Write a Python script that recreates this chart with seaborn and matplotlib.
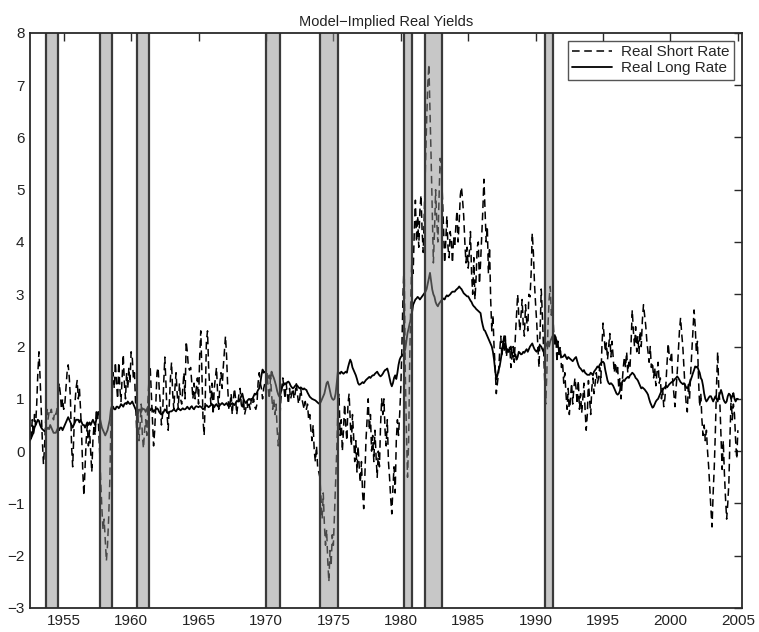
import numpy as np
import pandas as pd
import matplotlib
matplotlib.use("Agg")
import matplotlib.pyplot as plt
import seaborn as sns

# ---------------- data (monthly, starting July 1952) ----------------
start_year = 1952.5

short_rate = [
    0.4, 0.2, 0.6, 0.3, 0.7, 0.5,                                   # 1952 H2
    0.9, 1.5, 1.9, 1.4, 0.8, 0.2, -0.25, 0.1, 0.6, 0.8, 0.6, 0.75,   # 1953
    0.7, 0.8, 0.65, 0.6, 0.75, 0.7, 0.8, 1.0, 1.3, 1.1, 0.8, 1.0,    # 1954
    0.8, 0.9, 1.2, 1.5, 1.65, 1.4, 1.0, 0.1, -0.3, 0.3, 0.9, 1.2,    # 1955
    1.35, 1.0, 1.2, 0.8, 0.3, -0.4, -0.85, -0.3, 0.2, 0.5, 0.1, 0.4, # 1956
    0.0, -0.4, 0.2, 0.5, 0.3, 0.8, 0.7, 0.5, 0.0, -0.6, -1.1, -1.5,  # 1957
    -1.3, -1.7, -2.1, -1.8, -1.3, -0.6, 0.5, 1.2, 1.5, 1.2, 1.7, 1.3,# 1958
    1.0, 1.7, 1.2, 0.95, 1.4, 1.85, 1.3, 1.0, 1.5, 1.2, 1.6, 1.3,    # 1959
    1.9, 1.8, 1.4, 1.5, 0.9, 0.4, 0.8, 0.2, 0.5, 0.9, 0.3, 0.05,     # 1960
    0.4, 0.6, 0.3, 1.0, 1.4, 1.6, 1.1, 0.6, 0.1, 0.4, 0.9, 1.5,      # 1961
    1.6, 1.2, 0.9, 0.5, 0.7, 1.3, 1.8, 1.3, 0.7, 0.4, 0.9, 1.4,      # 1962
    1.7, 1.1, 0.8, 1.2, 1.5, 1.1, 0.8, 1.3, 1.0, 0.9, 1.2, 1.5,      # 1963
    1.0, 2.1, 1.9, 1.6, 1.55, 1.6, 1.3, 1.0, 1.3, 1.0, 1.2, 1.4,     # 1964
    0.9, 1.8, 2.3, 1.5, 0.6, 0.3, 1.0, 2.1, 2.3, 1.6, 1.2, 0.9,      # 1965
    1.3, 0.7, 1.2, 1.4, 1.6, 1.1, 0.8, 1.3, 1.5, 1.2, 1.6, 1.9,      # 1966
    2.2, 1.8, 1.2, 0.8, 0.9, 1.1, 0.7, 1.0, 1.2, 1.0, 0.7, 0.9,      # 1967
    1.1, 1.2, 0.9, 0.8, 1.0, 0.7, 0.8, 0.95, 0.8, 0.9, 0.8, 1.0,     # 1968
    0.9, 1.0, 0.85, 0.8, 0.9, 1.3, 1.5, 1.3, 1.2, 1.0, 1.2, 1.3,     # 1969
    1.3, 1.5, 1.2, 1.0, 1.4, 1.1, 0.8, 1.0, 0.7, 0.9, 0.4, 0.1,      # 1970
    0.4, 0.9, 1.2, 1.4, 1.2, 1.0, 1.3, 1.1, 0.9, 1.2, 1.0, 1.1,      # 1971
    1.2, 1.0, 1.1, 1.3, 1.1, 0.9, 1.0, 1.2, 1.0, 0.9, 0.8, 0.95,     # 1972
    0.8, 0.9, 0.6, 0.7, 0.4, 0.2, 0.5, 0.0, -0.2, 0.1, -0.3, -0.4,   # 1973
    -0.5, -0.9, -1.3, -0.8, -1.4, -1.8, -1.5, -2.1, -2.5, -1.9, -2.2, -1.6,  # 1974
    -1.8, -1.2, -0.6, 0.0, 0.8, 1.1, 0.3, 0.6, 0.0, 0.4, 0.9, 0.5,   # 1975
    0.2, 0.9, 1.1, 0.6, 0.1, 0.7, 0.3, -0.2, 0.2, -0.4, 0.1, -0.3,   # 1976
    -0.6, -0.2, -0.8, -1.1, -0.5, 0.2, 0.6, 1.0, 0.4, 0.7, 0.0, 0.3, # 1977
    -0.2, 0.4, -0.1, -0.5, 0.0, -0.3, 0.5, 1.0, 0.7, 1.0, 0.4, 0.1,  # 1978
    0.6, -0.2, -0.5, -0.9, -1.2, -0.7, -0.3, -0.8, 0.2, 0.6, 0.3, 0.7,  # 1979
    1.2, 2.0, 3.0, 3.6, 1.5, 0.4, -0.5, 0.2, 1.8, 3.0, 3.8, 3.4,     # 1980
    4.2, 4.8, 4.0, 4.5, 3.9, 4.6, 4.9, 4.2, 3.8, 4.6, 5.5, 6.3,      # 1981
    7.0, 7.4, 6.5, 5.6, 4.6, 3.6, 4.2, 5.0, 4.4, 4.0, 4.8, 5.6,      # 1982
    5.5, 4.9, 4.3, 3.6, 4.0, 4.5, 3.9, 3.7, 4.2, 4.0, 3.6, 4.1,      # 1983
    3.9, 4.3, 4.6, 4.0, 4.4, 4.9, 5.05, 4.8, 4.5, 4.0, 3.6, 3.9,     # 1984
    3.5, 3.8, 4.2, 3.4, 3.0, 3.7, 2.9, 3.3, 3.9, 4.0, 3.2, 3.6,      # 1985
    4.1, 4.6, 5.2, 4.6, 4.0, 4.3, 3.4, 3.9, 2.9, 2.3, 2.6, 2.0,      # 1986
    1.6, 1.1, 1.3, 1.5, 1.9, 2.2, 1.8, 2.1, 1.9, 2.2, 1.8, 2.0,      # 1987
    1.9, 2.0, 1.6, 1.8, 2.0, 1.7, 2.2, 2.6, 3.0, 2.6, 2.3, 2.6,      # 1988
    2.9, 2.4, 2.2, 2.8, 2.5, 2.3, 3.0, 2.95, 3.4, 4.17, 3.8, 3.2,    # 1989
    2.8, 2.45, 2.0, 1.6, 2.3, 3.1, 2.6, 2.0, 1.4, 0.9, 1.5, 2.4,     # 1990
    2.9, 3.15, 2.6, 2.8, 2.3, 2.0, 2.2, 1.7, 2.1, 1.8, 2.0, 1.6,     # 1991
    1.7, 1.3, 1.5, 1.1, 0.8, 1.2, 0.7, 1.0, 1.3, 0.9, 1.2, 1.4,      # 1992
    1.2, 0.9, 1.35, 0.8, 1.1, 0.73, 1.0, 1.3, 0.8, 0.4, 0.7, 1.35,   # 1993
    1.0, 0.7, 1.2, 1.4, 1.1, 1.3, 1.5, 1.3, 1.4, 1.6, 1.3, 2.0,      # 1994
    2.45, 2.2, 1.9, 2.07, 1.75, 2.0, 2.25, 1.8, 2.1, 1.8, 1.5, 1.7,  # 1995
    1.5, 1.6, 1.2, 1.4, 1.0, 1.3, 1.6, 1.8, 1.6, 1.9, 1.5, 1.7,      # 1996
    1.6, 2.1, 2.7, 2.3, 2.0, 2.38, 1.9, 2.2, 1.87, 2.3, 2.0, 2.5,    # 1997
    2.8, 2.6, 2.4, 2.1, 1.9, 1.7, 2.0, 1.6, 1.7, 1.4, 1.6, 1.25,     # 1998
    1.5, 1.7, 1.3, 1.4, 1.0, 1.2, 0.85, 1.0, 1.3, 1.7, 2.06, 1.8,    # 1999
    1.74, 1.9, 1.35, 1.1, 0.85, 1.2, 1.5, 1.9, 2.3, 2.55, 2.25, 2.0, # 2000
    1.6, 1.2, 0.9, 0.75, 1.3, 1.0, 1.5, 1.9, 2.3, 2.7, 2.4, 1.9,     # 2001
    2.1, 1.36, 0.85, 1.1, 0.6, 0.3, 0.5, 0.2, 0.4, 0.0, -0.3, -0.7,  # 2002
    -1.1, -1.45, -0.8, -0.3, 0.4, 1.25, 1.9, 1.2, 0.9, 0.3, -0.35, 0.2,  # 2003
    -0.42, -0.9, -1.3, -1.0, -0.6, 0.3, 1.05, 0.6, 0.9, 0.7, 0.2, -0.15, # 2004
    0.4,                                                            # 2005 Jan
]

long_rate = [
    0.2, 0.25, 0.3, 0.35, 0.45, 0.5,                                 # 1952 H2
    0.55, 0.6, 0.58, 0.5, 0.45, 0.42, 0.4, 0.38, 0.4, 0.42, 0.45, 0.42,  # 1953
    0.5, 0.45, 0.4, 0.35, 0.35, 0.35, 0.4, 0.45, 0.4, 0.45, 0.45, 0.4,   # 1954
    0.45, 0.5, 0.55, 0.6, 0.65, 0.6, 0.55, 0.5, 0.45, 0.5, 0.55, 0.6,    # 1955
    0.6, 0.6, 0.55, 0.6, 0.55, 0.5, 0.5, 0.45, 0.5, 0.55, 0.5, 0.55,     # 1956
    0.5, 0.55, 0.6, 0.55, 0.5, 0.6, 0.7, 0.75, 0.65, 0.55, 0.45, 0.4,    # 1957
    0.35, 0.3, 0.35, 0.4, 0.5, 0.6, 0.8, 0.85, 0.85, 0.8, 0.8, 0.85,     # 1958
    0.85, 0.82, 0.85, 0.9, 0.88, 0.85, 0.9, 0.92, 0.9, 0.95, 0.92, 0.9,  # 1959
    0.92, 0.95, 0.9, 0.85, 0.8, 0.75, 0.7, 0.78, 0.8, 0.75, 0.82, 0.8,   # 1960
    0.8, 0.75, 0.8, 0.85, 0.8, 0.78, 0.82, 0.8, 0.75, 0.78, 0.8, 0.82,   # 1961
    0.8, 0.75, 0.72, 0.7, 0.72, 0.75, 0.8, 0.78, 0.74, 0.72, 0.75, 0.76, # 1962
    0.76, 0.78, 0.8, 0.78, 0.76, 0.8, 0.82, 0.8, 0.78, 0.8, 0.82, 0.8,   # 1963
    0.8, 0.82, 0.85, 0.82, 0.8, 0.84, 0.86, 0.82, 0.8, 0.84, 0.86, 0.85, # 1964
    0.84, 0.86, 0.85, 0.83, 0.8, 0.82, 0.85, 0.88, 0.86, 0.84, 0.86, 0.88,  # 1965
    0.9, 0.86, 0.84, 0.88, 0.9, 0.86, 0.84, 0.88, 0.9, 0.92, 0.9, 0.88,  # 1966
    0.9, 0.92, 0.88, 0.85, 0.86, 0.9, 0.92, 0.9, 0.88, 0.92, 0.96, 0.95, # 1967
    0.95, 1.0, 1.05, 1.1, 1.0, 0.95, 0.92, 0.95, 0.98, 1.0, 0.98, 1.0,   # 1968
    1.0, 1.05, 1.1, 1.08, 1.12, 1.17, 1.2, 1.3, 1.45, 1.56, 1.5, 1.52,   # 1969
    1.5, 1.45, 1.4, 1.45, 1.38, 1.52, 1.45, 1.4, 1.33, 1.25, 1.15, 1.08, # 1970
    1.04, 1.1, 1.2, 1.25, 1.27, 1.3, 1.28, 1.32, 1.33, 1.3, 1.25, 1.22,  # 1971
    1.2, 1.22, 1.25, 1.27, 1.25, 1.22, 1.2, 1.22, 1.2, 1.18, 1.2, 1.18,  # 1972
    1.17, 1.12, 1.08, 1.04, 1.02, 1.0, 0.99, 0.98, 0.97, 0.95, 0.93, 0.91,  # 1973
    0.91, 0.95, 1.0, 1.05, 1.1, 1.2, 1.3, 1.33, 1.25, 1.15, 1.05, 1.0,   # 1974
    0.98, 1.0, 1.1, 1.3, 1.52, 1.5, 1.48, 1.52, 1.5, 1.48, 1.5, 1.52,    # 1975
    1.5, 1.6, 1.68, 1.75, 1.7, 1.6, 1.55, 1.5, 1.45, 1.38, 1.3, 1.27,    # 1976
    1.28, 1.3, 1.32, 1.3, 1.33, 1.36, 1.38, 1.4, 1.42, 1.4, 1.43, 1.45,  # 1977
    1.45, 1.48, 1.5, 1.52, 1.48, 1.45, 1.43, 1.45, 1.48, 1.52, 1.55, 1.56,  # 1978
    1.58, 1.5, 1.4, 1.3, 1.24, 1.3, 1.4, 1.45, 1.38, 1.5, 1.65, 1.75,    # 1979
    1.8, 1.82, 1.85, 1.88, 1.95, 2.1, 2.26, 2.35, 2.45, 2.52, 2.65, 2.8, # 1980
    2.85, 2.9, 2.92, 2.95, 2.93, 2.9, 2.93, 2.96, 2.99, 3.02, 3.05, 3.1, # 1981
    3.2, 3.3, 3.41, 3.25, 3.09, 3.0, 2.95, 2.85, 2.8, 2.77, 2.82, 2.85,  # 1982
    2.88, 2.9, 2.92, 2.9, 2.95, 2.98, 2.96, 2.98, 3.0, 3.03, 3.05, 3.05, # 1983
    3.05, 3.08, 3.1, 3.12, 3.15, 3.12, 3.1, 3.06, 3.02, 3.0, 2.98, 2.96, # 1984
    2.96, 2.92, 2.88, 2.85, 2.8, 2.77, 2.75, 2.72, 2.7, 2.68, 2.66, 2.64,  # 1985
    2.5, 2.4, 2.32, 2.3, 2.25, 2.2, 2.15, 2.1, 2.05, 2.0, 1.9, 1.75,     # 1986
    1.55, 1.37, 1.45, 1.55, 1.62, 1.75, 1.9, 2.05, 2.2, 2.1, 1.95, 1.9,  # 1987
    1.9, 1.95, 2.0, 1.85, 1.8, 1.82, 1.85, 1.75, 1.8, 1.9, 1.88, 1.85,   # 1988
    1.86, 1.9, 1.88, 1.92, 1.95, 1.9, 1.95, 2.0, 2.03, 2.06, 2.0, 1.95,  # 1989
    1.92, 1.9, 1.95, 2.0, 2.02, 2.0, 1.95, 1.9, 1.98, 2.0, 2.05, 2.1,    # 1990
    2.0, 2.1, 2.15, 2.2, 2.18, 2.22, 2.15, 2.1, 2.0, 1.95, 1.85, 1.8,    # 1991
    1.8, 1.82, 1.85, 1.8, 1.76, 1.8, 1.78, 1.76, 1.74, 1.72, 1.75, 1.78, # 1992
    1.8, 1.72, 1.65, 1.6, 1.58, 1.55, 1.52, 1.55, 1.5, 1.48, 1.46, 1.46, # 1993
    1.46, 1.5, 1.48, 1.45, 1.52, 1.55, 1.58, 1.62, 1.6, 1.65, 1.68, 1.7, # 1994
    1.71, 1.68, 1.55, 1.45, 1.35, 1.3, 1.28, 1.3, 1.28, 1.25, 1.2, 1.15, # 1995
    1.1, 1.08, 1.1, 1.15, 1.25, 1.32, 1.36, 1.34, 1.38, 1.4, 1.42, 1.4,  # 1996
    1.45, 1.47, 1.5, 1.48, 1.45, 1.4, 1.38, 1.35, 1.3, 1.25, 1.2, 1.22,  # 1997
    1.2, 1.18, 1.15, 1.12, 1.08, 1.0, 0.93, 0.88, 0.83, 0.85, 0.9, 0.95, # 1998
    0.98, 1.0, 1.05, 1.1, 1.15, 1.17, 1.2, 1.22, 1.25, 1.22, 1.25, 1.28, # 1999
    1.3, 1.32, 1.33, 1.35, 1.38, 1.4, 1.43, 1.4, 1.36, 1.32, 1.3, 1.28,  # 2000
    1.3, 1.26, 1.22, 1.2, 1.24, 1.3, 1.36, 1.42, 1.49, 1.55, 1.62, 1.6,  # 2001
    1.62, 1.55, 1.5, 1.4, 1.36, 1.25, 1.1, 1.0, 0.95, 0.98, 1.02, 1.05,  # 2002
    1.05, 1.0, 0.95, 1.0, 1.05, 1.0, 0.95, 1.05, 1.1, 1.17, 1.1, 1.0,    # 2003
    0.95, 0.92, 0.95, 1.05, 1.1, 1.08, 1.0, 1.05, 1.11, 1.0, 0.95, 1.0,  # 2004
    1.0,                                                             # 2005 Jan
]

recession_start = [1953.68, 1957.69, 1960.45, 1969.98, 1973.98, 1980.26, 1981.76, 1990.70]
recession_end = [1954.57, 1958.57, 1961.30, 1971.07, 1975.34, 1980.83, 1983.04, 1991.26]

title_text = "Model\u2212Implied Real Yields"
series_labels = ["Real Short Rate", "Real Long Rate"]
x_ticks = [1955, 1960, 1965, 1970, 1975, 1980, 1985, 1990, 1995, 2000, 2005]
y_ticks = [-3, -2, -1, 0, 1, 2, 3, 4, 5, 6, 7, 8]

# ---------------- plotting ----------------
sns.set_theme(style="white")
plt.rcParams['font.family'] = ['Liberation Sans', 'DejaVu Sans']

n = min(len(short_rate), len(long_rate))
t = start_year + np.arange(n) / 12.0
df = pd.DataFrame({"t": t, "short": short_rate[:n], "long": long_rate[:n]})

fig = plt.figure(figsize=(7.59, 6.32), dpi=100)
ax = fig.add_axes([0.0395, 0.038, 0.938, 0.910])

dark = "#2a2a2a"
sns.lineplot(data=df, x="t", y="short", ax=ax, color="black", lw=1.1,
             linestyle=(0, (5, 3)), label=series_labels[0], zorder=2)
sns.lineplot(data=df, x="t", y="long", ax=ax, color="black", lw=1.3,
             linestyle="-", label=series_labels[1], zorder=2)

for a, b in zip(recession_start, recession_end):
    ax.axvspan(a, b, facecolor="#909090", alpha=0.5, edgecolor="none", zorder=3)
    ax.axvline(a, color="#3a3a3a", lw=1.6, zorder=4)
    ax.axvline(b, color="#3a3a3a", lw=1.6, zorder=4)

ax.set_xlim(1952.5, 2005.3)
ax.set_ylim(-3, 8)
ax.set_xticks(x_ticks)
ax.set_yticks(y_ticks)
ax.set_xlabel("")
ax.set_ylabel("")
ax.set_title(title_text, fontsize=10.5, color="#222222", pad=5)

ax.tick_params(direction="in", length=5.5, width=1.0, color=dark,
               top=True, right=True, labelsize=11, labelcolor="#222222", pad=4)
for s in ax.spines.values():
    s.set_color(dark)
    s.set_linewidth(1.3)
    s.set_zorder(6)

leg = ax.legend(loc="upper right", frameon=True, fancybox=False, shadow=False,
                fontsize=11, handlelength=2.6, borderaxespad=0.5,
                borderpad=0.3, labelspacing=0.15, handletextpad=0.6)
leg.get_frame().set_edgecolor(dark)
leg.get_frame().set_linewidth(1.0)
leg.set_zorder(10)

fig.savefig("out.png", dpi=100)
